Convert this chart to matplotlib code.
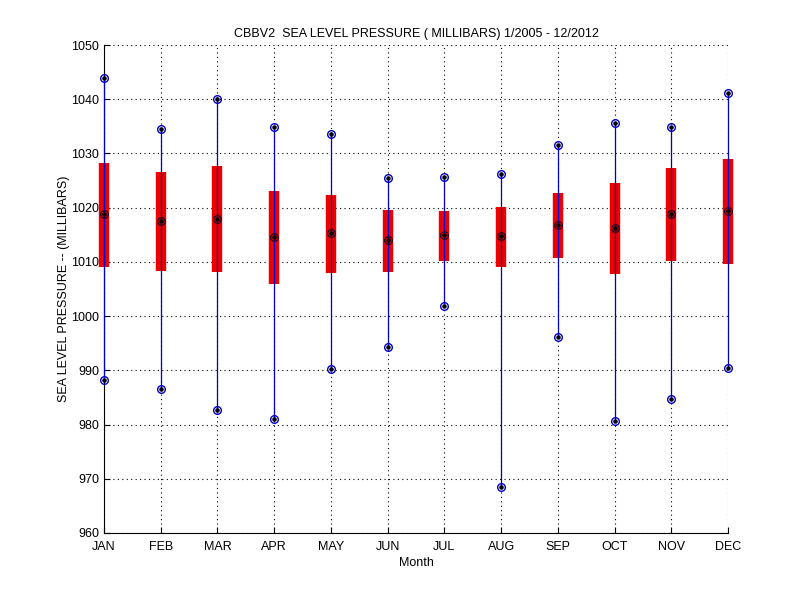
import matplotlib
matplotlib.use('Agg')
import matplotlib.pyplot as plt

# monthly sea level pressure stats (millibars)
months = ['JAN', 'FEB', 'MAR', 'APR', 'MAY', 'JUN',
          'JUL', 'AUG', 'SEP', 'OCT', 'NOV', 'DEC']
p_max = [1044.0, 1034.5, 1040.1, 1034.8, 1033.5, 1025.4,
         1025.7, 1026.2, 1031.5, 1035.6, 1034.9, 1041.2]
p_upper = [1028.3, 1026.6, 1027.6, 1023.1, 1022.4, 1019.6,
           1019.4, 1020.1, 1022.7, 1024.6, 1027.3, 1029.0]
p_mean = [1018.8, 1017.5, 1017.9, 1014.6, 1015.3, 1014.0,
          1014.9, 1014.7, 1016.8, 1016.2, 1018.8, 1019.3]
p_lower = [1009.1, 1008.4, 1008.2, 1006.0, 1008.0, 1008.2,
           1010.2, 1009.1, 1010.7, 1007.8, 1010.2, 1009.7]
p_min = [988.2, 986.5, 982.7, 981.0, 990.2, 994.3,
         1001.8, 968.5, 996.1, 980.7, 984.7, 990.4]

plt.rcParams['font.family'] = ['Liberation Sans', 'DejaVu Sans']

fig = plt.figure(figsize=(8, 6), dpi=100)
ax = fig.add_axes([0.13, 0.1117, 0.78, 0.8133])

x = list(range(1, 13))

# red std boxes, then the blue range line on top
ax.vlines(x, p_lower, p_upper, colors='#ee0000', linewidth=7.5, zorder=2,
          clip_on=False)
ax.vlines(x, p_min, p_max, colors='#0000cc', linewidth=0.9, zorder=3,
          clip_on=False)

# extreme markers
for vals in (p_max, p_min):
    ax.plot(x, vals, 'o', ms=5.5, mfc='none', mec='#0000cc', mew=1.0,
            zorder=4, clip_on=False)
    ax.plot(x, vals, '.', ms=4.5, color='black', zorder=5, clip_on=False)

# mean markers
ax.plot(x, p_mean, 'o', ms=5.5, mfc='none', mec='#220022', mew=0.9,
        zorder=4, clip_on=False)
ax.plot(x, p_mean, '.', ms=4.5, color='black', zorder=5, clip_on=False)

ax.set_xlim(1, 12)
ax.set_ylim(960, 1050)
ax.set_xticks(x)
ax.set_xticklabels(months)
ax.set_yticks(range(960, 1051, 10))

ax.grid(True, linestyle=(0, (1, 3)), color='black', linewidth=0.8)
ax.set_axisbelow(True)
ax.spines['top'].set_visible(False)
ax.spines['right'].set_visible(False)
ax.tick_params(direction='in', length=4, labelsize=9, top=False, right=False)
ax.tick_params(axis='x', pad=6)

ax.set_xlabel('Month', fontsize=9, labelpad=3)
ax.set_ylabel('SEA LEVEL PRESSURE -- (MILLIBARS)', fontsize=9, labelpad=1)
ax.set_title('CBBV2  SEA LEVEL PRESSURE ( MILLIBARS) 1/2005 - 12/2012', fontsize=9, pad=6)

fig.savefig('out.png', dpi=100)
